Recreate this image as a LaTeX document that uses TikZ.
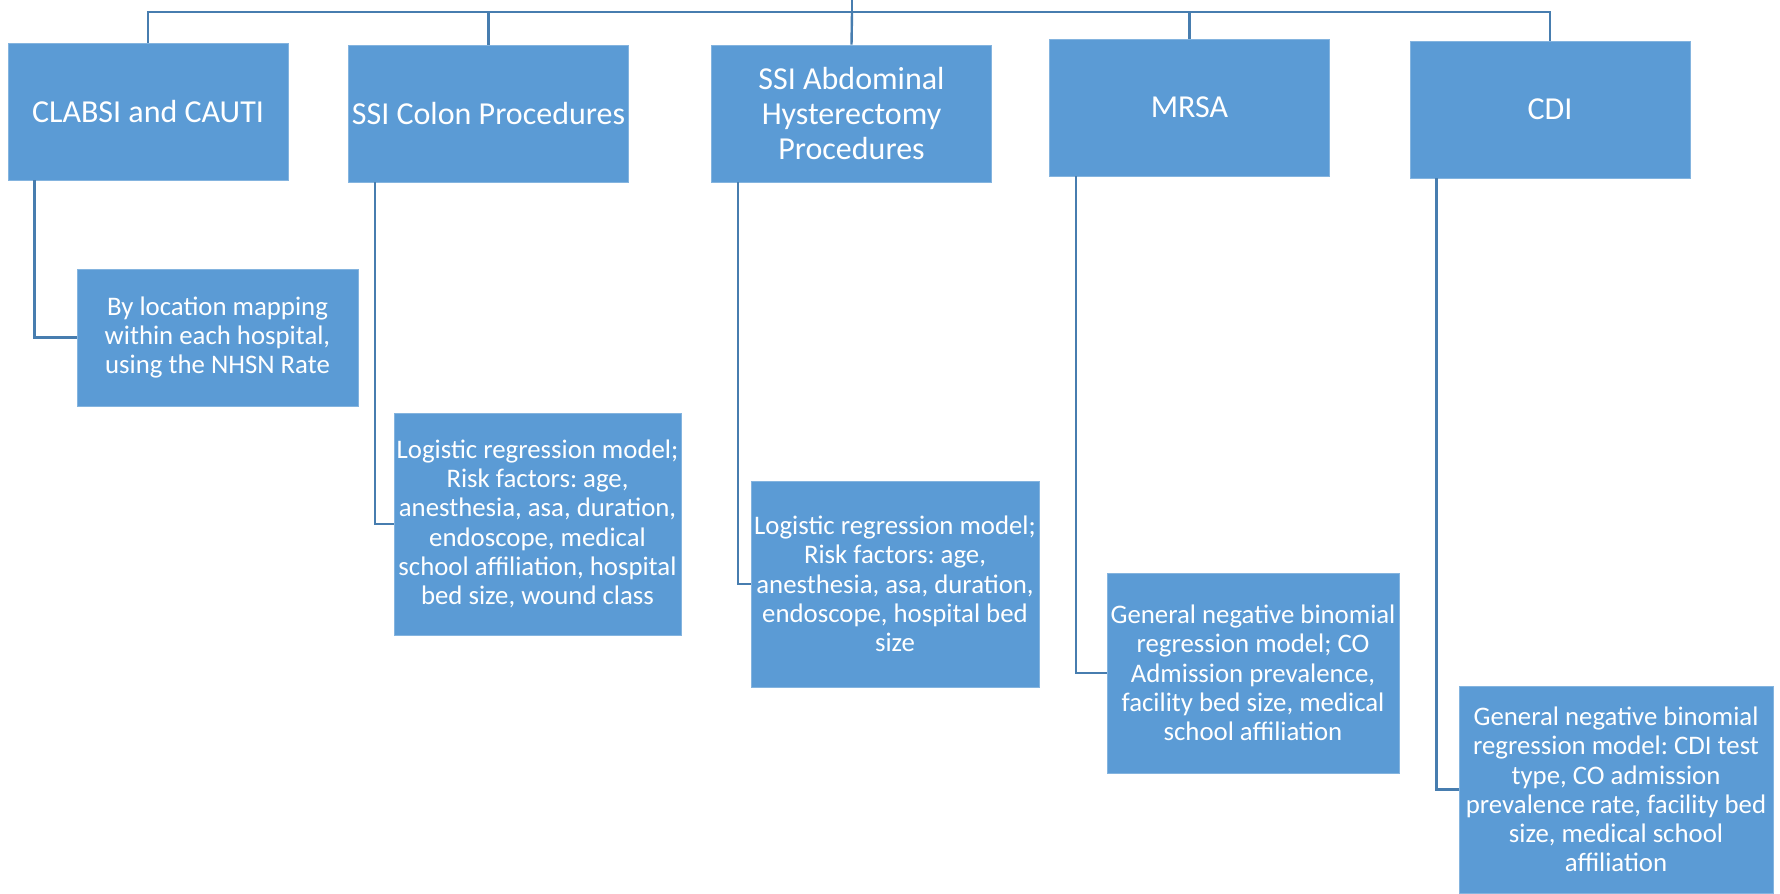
\documentclass[tikz,border=0pt]{standalone}
\usepackage{fontspec}
\setmainfont{Carlito}
\usepackage{xcolor}
\usepackage{tikz}
\usetikzlibrary{calc}
\frenchspacing
\definecolor{boxblue}{RGB}{91,155,213}
\definecolor{linkblue}{RGB}{71,125,175}
\tikzset{
  % Box styles
  topbox/.style={rectangle, minimum width=140pt, minimum height=68.5pt, inner sep=0pt, align=center, fill=boxblue, draw=boxblue!75!white, line width=0.4pt, text=white, font=\fontsize{16}{17.5}\selectfont},
  subbox/.style={rectangle, inner sep=0pt, align=center, fill=boxblue, draw=boxblue!75!white, line width=0.4pt, text=white, font=\fontsize{13.4}{14.65}\selectfont},
  % Connector style
  link/.style={draw=linkblue, line width=1.2pt},
}
\begin{document}
\begin{tikzpicture}[x=0.5pt, y=-0.5pt]
    \useasboundingbox (0,0) rectangle (1780,893);

    % Top level
    \node[topbox] (clabsi) at (148,111.5) {CLABSI and CAUTI};
    \node[topbox] (colon) at (488.5,113.5) {SSI Colon Procedures};
    \node[topbox] (hyst) at (851.5,113.5) {SSI Abdominal\\Hysterectomy\\Procedures};
    \node[topbox] (mrsa) at (1189.5,107.5) {MRSA};
    \node[topbox] (cdi) at (1550,109.5) {CDI};

    % Methods
    \node[subbox, minimum width=140.5pt, minimum height=68.5pt] (clabsiM) at (217.5,337.5) {By location mapping\\within each hospital,\\using the NHSN Rate};
    \node[subbox, minimum width=143.5pt, minimum height=111pt] (colonM) at (537.5,524) {Logistic regression model;\\Risk factors: age,\\anesthesia, asa, duration,\\endoscope, medical\\school affiliation, hospital\\bed size, wound class};
    \node[subbox, minimum width=144pt, minimum height=103pt] (hystM) at (895,584) {Logistic regression model;\\Risk factors: age,\\anesthesia, asa, duration,\\endoscope, hospital bed\\size};
    \node[subbox, minimum width=146pt, minimum height=100pt] (mrsaM) at (1253,673) {General negative binomial\\regression model; CO\\Admission prevalence,\\facility bed size, medical\\school affiliation};
    \node[subbox, minimum width=157pt, minimum height=103.5pt] (cdiM) at (1616,789.5) {General negative binomial\\regression model: CDI test\\type, CO admission\\prevalence rate, facility bed\\size, medical school\\affiliation};

    % Tree links
    \coordinate (root) at (852,0);
    \coordinate (hub) at (852,12);
    \draw[link] (clabsi.north) |- (hub) -- (root);
    \draw[link] (colon.north) |- (hub);
    \draw[link] (hyst.north) -- (hub);
    \draw[link] (mrsa.north) |- (hub);
    \draw[link] (cdi.north) |- (hub);

    % Method links
    \draw[link] ($(clabsi.south west)+(27,0)$) |- (clabsiM.west);
    \draw[link] ($(colon.south west)+(27,0)$) |- (colonM.west);
    \draw[link] ($(hyst.south west)+(27,0)$) |- (hystM.west);
    \draw[link] ($(mrsa.south west)+(27,0)$) |- (mrsaM.west);
    \draw[link] ($(cdi.south west)+(27,0)$) |- (cdiM.west);
\end{tikzpicture}
\end{document}
